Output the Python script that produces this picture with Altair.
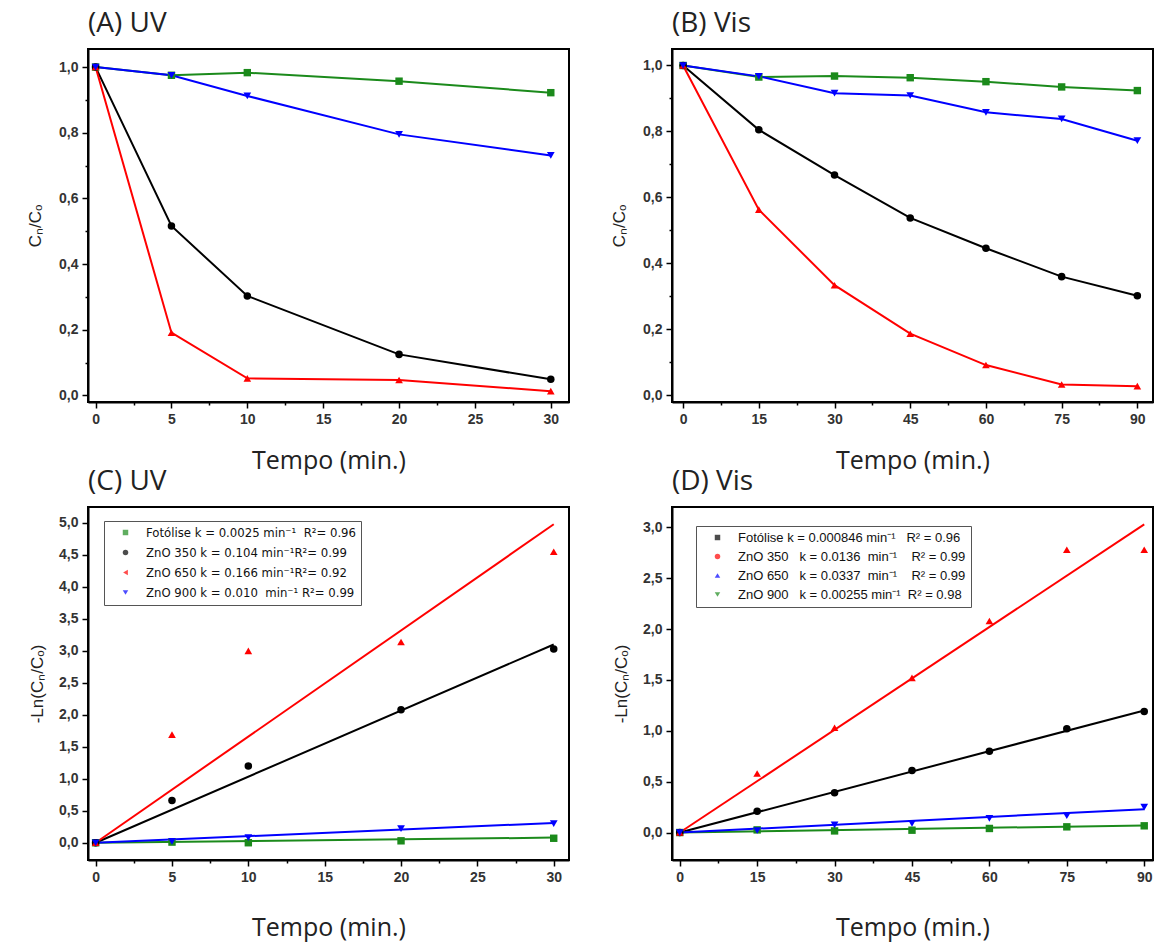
import altair as alt
import pandas as pd

SERIES = ["Fotólise", "ZnO 350", "ZnO 650", "ZnO 900"]
COLORS = ["#1b8a1b", "#000000", "#ff0000", "#0000ff"]
SHAPES = ["square", "circle", "triangle-up", "triangle-down"]

# (A) UV  C/Co
tA = [0, 5, 10, 20, 30]
A_fotolise = [1.0, 0.975, 0.983, 0.957, 0.922]
A_zno350 = [1.0, 0.516, 0.303, 0.125, 0.049]
A_zno650 = [1.0, 0.191, 0.052, 0.047, 0.013]
A_zno900 = [1.0, 0.975, 0.912, 0.795, 0.731]

# (B) Vis  C/Co
tB = [0, 15, 30, 45, 60, 75, 90]
B_fotolise = [1.0, 0.965, 0.968, 0.963, 0.951, 0.935, 0.924]
B_zno350 = [1.0, 0.805, 0.668, 0.538, 0.446, 0.360, 0.302]
B_zno650 = [1.0, 0.563, 0.334, 0.187, 0.092, 0.033, 0.028]
B_zno900 = [1.0, 0.967, 0.916, 0.909, 0.858, 0.838, 0.772]

# (C) UV  -ln(C/Co)
tC = [0, 5, 10, 20, 30]
C_fotolise = [0.0, 0.01, 0.0, 0.03, 0.07]
C_zno350 = [0.0, 0.66, 1.20, 2.08, 3.03]
C_zno650 = [0.0, 1.69, 3.00, 3.14, 4.55]
C_zno900 = [0.0, 0.02, 0.08, 0.22, 0.30]
tC_fit = [0, 30]
C_fit_fotolise = [0.0, 0.08]
C_fit_zno350 = [0.0, 3.10]
C_fit_zno650 = [0.0, 4.98]
C_fit_zno900 = [0.0, 0.31]
C_legend = [
    "Fotólise k = 0.0025 min\u207b\u00b9\u00a0\u00a0R\u00b2= 0.96",
    "ZnO 350 k = 0.104 min\u207b\u00b9R\u00b2= 0.99",
    "ZnO 650 k = 0.166 min\u207b\u00b9R\u00b2= 0.92",
    "ZnO 900 k = 0.010\u00a0\u00a0min\u207b\u00b9 R\u00b2= 0.99",
]
C_legend_colors = ["#1b8a1b", "#000000", "#ff0000", "#0000ff"]
C_legend_shapes = ["square", "circle", "triangle-left", "triangle-down"]

# (D) Vis  -ln(C/Co)
tD = [0, 15, 30, 45, 60, 75, 90]
D_fotolise = [0.0, 0.026, 0.016, 0.023, 0.040, 0.056, 0.066]
D_zno350 = [0.0, 0.21, 0.39, 0.61, 0.80, 1.02, 1.19]
D_zno650 = [0.0, 0.58, 1.03, 1.52, 2.08, 2.78, 2.78]
D_zno900 = [0.0, 0.02, 0.075, 0.09, 0.14, 0.165, 0.25]
tD_fit = [0, 90]
D_fit_fotolise = [0.0, 0.07]
D_fit_zno350 = [0.0, 1.20]
D_fit_zno650 = [0.0, 3.03]
D_fit_zno900 = [0.0, 0.23]
D_legend = [
    "Fotólise k = 0.000846 min\u207b\u00b9\u00a0\u00a0\u00a0R\u00b2 = 0.96",
    "ZnO 350\u00a0\u00a0\u00a0k = 0.0136\u00a0\u00a0min\u207b\u00b9\u00a0\u00a0\u00a0\u00a0R\u00b2 = 0.99",
    "ZnO 650\u00a0\u00a0\u00a0k = 0.0337\u00a0\u00a0min\u207b\u00b9\u00a0\u00a0\u00a0\u00a0R\u00b2 = 0.99",
    "ZnO 900\u00a0\u00a0\u00a0k = 0.00255 min\u207b\u00b9\u00a0\u00a0R\u00b2 = 0.98",
]
D_legend_colors = ["#000000", "#ff0000", "#0000ff", "#1b8a1b"]
D_legend_shapes = ["square", "circle", "triangle-up", "triangle-down"]


def long(t, series_lists):
    rows = []
    for name, vals in zip(SERIES, series_lists):
        for ti, vi in zip(t, vals):
            rows.append({"t": ti, "v": vi, "serie": name})
    return pd.DataFrame(rows)


def vals(lo, hi, step):
    out = []
    x = lo
    while x <= hi + 1e-9:
        out.append(round(x, 4))
        x += step
    return out


def is_major(step):
    return f"abs(datum.value/{step} - round(datum.value/{step})) < 0.001"


def make_axis(values, major, decimals, title, orient, title_font, title_size, title_pad, label_pad):
    fmt = "'.1f'" if decimals else "'d'"
    lab = f"{is_major(major)} ? replace(format(datum.value, {fmt}), '.', ',') : ''"
    return alt.Axis(
        values=values,
        labelExpr=lab,
        tickSize={"condition": {"test": f"!({is_major(major)})", "value": 3}, "value": 6},
        title=title,
        orient=orient,
        titleFont=title_font,
        titleFontSize=title_size,
        titlePadding=title_pad,
        labelPadding=label_pad,
        grid=False,
    )


def panel(title, pts, lines, xdom, ydom, xaxis, yaxis, legend=None, sizes=(55, 60, 85, 85)):
    x = alt.X("t:Q", scale=alt.Scale(domain=xdom, nice=False, zero=False), axis=xaxis)
    y = alt.Y("v:Q", scale=alt.Scale(domain=ydom, nice=False, zero=False), axis=yaxis)
    color = alt.Color("serie:N", scale=alt.Scale(domain=SERIES, range=COLORS), legend=None)
    shape = alt.Shape("serie:N", scale=alt.Scale(domain=SERIES, range=SHAPES), legend=None)
    size = alt.Size("serie:N", scale=alt.Scale(domain=SERIES, range=list(sizes)), legend=None)
    l = alt.Chart(lines).mark_line(strokeWidth=2).encode(x=x, y=y, color=color)
    p = alt.Chart(pts).mark_point(filled=True, opacity=1).encode(
        x=x, y=y, color=color, shape=shape, size=size
    )
    layers = [l, p]
    if legend is not None:
        labels, cols, shps, lx, ly, rowpad, font, fsize = legend
        leg = (
            alt.Chart(pd.DataFrame({"entry": labels}))
            .mark_point(filled=True)
            .encode(
                color=alt.Color(
                    "entry:N",
                    scale=alt.Scale(domain=labels, range=cols),
                    legend=alt.Legend(
                        title=None,
                        orient="none",
                        legendX=lx,
                        legendY=ly,
                        strokeColor="#555555",
                        fillColor="white",
                        padding=5,
                        rowPadding=rowpad,
                        symbolSize=30,
                        symbolStrokeWidth=0,
                        labelFont=font,
                        labelFontSize=fsize,
                        labelColor="#111",
                        labelLimit=400,
                        labelOffset=14,
                        symbolOffset=10,
                    ),
                ),
                shape=alt.Shape("entry:N", scale=alt.Scale(domain=labels, range=shps)),
            )
            .transform_filter("false")
        )
        layers.append(leg)
    ch = alt.layer(*layers).properties(
        width=481,
        height=353,
        title=alt.TitleParams(
            title, anchor="start", frame="group", font="Open Sans", fontSize=28,
            fontWeight="normal", color="#222", offset=11,
        ),
    )
    if legend is not None:
        ch = ch.resolve_scale(color="independent", shape="independent")
    return ch


dfA = long(tA, [A_fotolise, A_zno350, A_zno650, A_zno900])
dfB = long(tB, [B_fotolise, B_zno350, B_zno650, B_zno900])
dfC = long(tC, [C_fotolise, C_zno350, C_zno650, C_zno900])
dfCfit = long(tC_fit, [C_fit_fotolise, C_fit_zno350, C_fit_zno650, C_fit_zno900])
dfD = long(tD, [D_fotolise, D_zno350, D_zno650, D_zno900])
dfDfit = long(tD_fit, [D_fit_fotolise, D_fit_zno350, D_fit_zno650, D_fit_zno900])

XT = "Tempo (min.)"
yC = "C\u2099/C\u2092"
yL = "-Ln(C\u2099/C\u2092)"
TF = "Open Sans"

A = panel(
    "(A) UV", dfA, dfA, [-0.5, 31.2], [-0.02, 1.055],
    make_axis(vals(0, 30, 2.5), 5, False, XT, "bottom", TF, 25, 22, 4),
    make_axis(vals(0, 1.0, 0.1), 0.2, True, yC, "left", "Liberation Sans", 17, 14, 4),
)
B = panel(
    "(B) Vis", dfB, dfB, [-2.2, 93.1], [-0.02, 1.05],
    make_axis(vals(0, 90, 7.5), 15, False, XT, "bottom", TF, 25, 22, 4),
    make_axis(vals(0, 1.0, 0.1), 0.2, True, yC, "left", "Liberation Sans", 17, 14, 4),
)
C = panel(
    "(C) UV", dfC, dfCfit, [-0.5, 31.0], [-0.27, 5.25],
    make_axis(vals(0, 30, 2.5), 5, False, XT, "bottom", TF, 25, 31, 4),
    make_axis(vals(0, 5.0, 0.5), 0.5, True, yL, "left", "Liberation Sans", 17, 12, 4),
    legend=(C_legend, C_legend_colors, C_legend_shapes, 16, 14, 6,
            "DejaVu Sans Condensed", 13),
    sizes=(64, 80, 100, 90),
)
D = panel(
    "(D) Vis", dfD, dfDfit, [-1.5, 91.7], [-0.27, 3.2],
    make_axis(vals(0, 90, 7.5), 15, False, XT, "bottom", TF, 25, 31, 4),
    make_axis(vals(0, 3.0, 0.5), 0.5, True, yL, "left", "Liberation Sans", 17, 12, 4),
    legend=(D_legend, D_legend_colors, D_legend_shapes, 24, 19, 5,
            "Liberation Sans", 13),
    sizes=(50, 64, 85, 80),
)

chart = (
    alt.concat(
        A, B, C, D,
        columns=2,
        spacing=alt.RowColnumber(row=105, column=103),
        bounds="flush",
    )
    .properties(padding={"left": 25, "top": 9, "right": 5, "bottom": 2}, background="white")
    .configure_view(stroke="black", strokeWidth=2)
    .configure_axis(
        domainColor="black",
        domainWidth=2,
        tickColor="black",
        tickWidth=1.5,
        labelFont="Liberation Sans",
        labelFontSize=14,
        labelFontWeight="bold",
        labelColor="#333",
        titleColor="#222",
        titleFontWeight="normal",
    )
)

chart.save("out.html", embed_options={"renderer": "svg", "actions": False})
